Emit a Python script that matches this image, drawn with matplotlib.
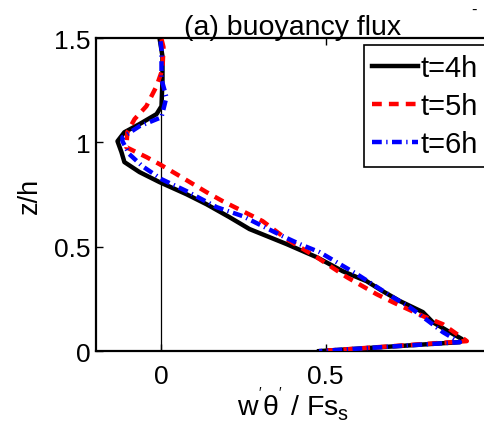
import numpy as np
import matplotlib
matplotlib.use("Agg")
import matplotlib.pyplot as plt

plt.rcParams['font.family'] = ['Liberation Sans', 'DejaVu Sans']
plt.rcParams['mathtext.fontset'] = 'custom'
plt.rcParams['mathtext.rm'] = 'Liberation Sans'

# profiles (flux, z/h)
x_4h = [-0.006, 0.003, 0.003, 0.0, -0.015, -0.067, -0.113, -0.134, -0.122, -0.113,
        -0.067, -0.006, 0.076, 0.137, 0.207, 0.268, 0.381, 0.473, 0.552, 0.625,
        0.674, 0.726, 0.796, 0.826, 0.878, 0.915, 0.909, 0.48]
z_4h = [1.5, 1.413, 1.303, 1.174, 1.136, 1.088, 1.049, 1.006, 0.954, 0.906,
        0.858, 0.810, 0.752, 0.704, 0.642, 0.585, 0.513, 0.450, 0.383, 0.335,
        0.287, 0.240, 0.187, 0.139, 0.091, 0.058, 0.043, 0.0]

x_5h = [0.0, 0.006, 0.003, -0.015, -0.046, -0.082, -0.104, -0.107, -0.046, -0.006,
        0.046, 0.137, 0.186, 0.247, 0.308, 0.381, 0.473, 0.564, 0.655, 0.704,
        0.796, 0.857, 0.930, 0.48]
z_5h = [1.495, 1.457, 1.351, 1.270, 1.174, 1.112, 1.049, 0.977, 0.930, 0.896,
        0.848, 0.762, 0.719, 0.671, 0.623, 0.537, 0.450, 0.355, 0.273, 0.235,
        0.168, 0.129, 0.048, 0.0]

x_6h = [-0.003, 0.0, 0.0, 0.015, 0.0, -0.067, -0.119, -0.119, -0.098, -0.058,
        0.0, 0.076, 0.168, 0.247, 0.369, 0.421, 0.482, 0.595, 0.704, 0.756,
        0.817, 0.857, 0.909, 0.48]
z_6h = [1.485, 1.447, 1.303, 1.217, 1.121, 1.078, 1.025, 1.006, 0.944, 0.886,
        0.824, 0.767, 0.690, 0.647, 0.551, 0.513, 0.474, 0.369, 0.259, 0.211,
        0.139, 0.091, 0.043, 0.0]

labels = ['t=4h', 't=5h', 't=6h']

fig = plt.figure(figsize=(4.84, 4.31), dpi=100)
ax = fig.add_axes([0.198, 0.183, 0.814, 0.7262])

ax.axvline(0, color='black', lw=0.9, zorder=1)
ax.plot(x_4h, z_4h, color='black', lw=3.2, label=labels[0], zorder=3)
ax.plot(x_5h, z_5h, color='red', lw=3.2, ls=(0, (2.2, 1.6)), label=labels[1], zorder=3)
ax.plot(x_6h, z_6h, color='blue', lw=3.2, ls=(0, (2.2, 1.0, 0.3, 1.0)), label=labels[2], zorder=3)

ax.set_xlim(-0.2, 1.0)
ax.set_ylim(0, 1.5)
ax.set_xticks([0, 0.5])
ax.set_xticklabels(['0', '0.5'])
ax.set_yticks([0, 0.5, 1, 1.5])
ax.set_yticklabels(['0', '0.5', '1', '1.5'])
ax.tick_params(axis='x', direction='in', length=5, width=1, labelsize=19, pad=9, top=True)
ax.tick_params(axis='y', direction='in', length=5, width=1, labelsize=19, pad=4)
for s in ax.spines.values():
    s.set_linewidth(1.6)

ax.set_title('(a) buoyancy flux', fontsize=20.5, pad=3)
ax.set_xlabel(r"w$^{\mathregular{'}}$θ$^{\mathregular{'}}$ / Fs$_{\mathregular{s}}$", fontsize=20.5, labelpad=-2)
ax.set_ylabel('z/h', fontsize=19.5, labelpad=8)

leg = ax.legend(loc='upper left', bbox_to_anchor=(0.68, 0.978), fontsize=21,
                fancybox=False, framealpha=1, edgecolor='black',
                handlelength=1.55, handletextpad=0.08, labelspacing=0.35,
                borderpad=0.3, borderaxespad=0)
leg.get_frame().set_linewidth(1.2)

fig.text(0.98, 0.975, '-', fontsize=12, ha='center', va='center')

fig.savefig('out.png', dpi=100)
